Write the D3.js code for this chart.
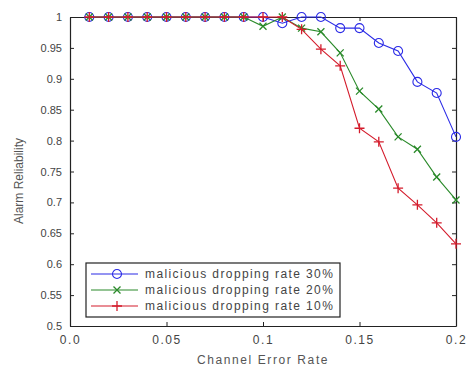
<!DOCTYPE html>
<html lang="en">
<head>
<meta charset="UTF-8">
<title>Alarm reliability</title>
<script src="https://cdn.jsdelivr.net/npm/d3@7"></script>
<style>
body { margin: 0; background: #fff; }
svg { font-family: Arial, "Liberation Sans", sans-serif; }
.tick text { fill: #444; font-size: 11px; }
.xax .tick text { font-size: 12px; letter-spacing: 1.6px; }
</style>
</head>
<body>
<script>
// channel error rate 0.01 .. 0.2
const errorRates = [0.01,0.02,0.03,0.04,0.05,0.06,0.07,0.08,0.09,0.10,
                    0.11,0.12,0.13,0.14,0.15,0.16,0.17,0.18,0.19,0.20]
const rel30 = [1,1,1,1,1,1,1,1,1,1, 0.99,1,1,0.982,0.982,0.958,0.945,0.895,0.877,0.806]
const rel20 = [1,1,1,1,1,1,1,1,1,0.985, 1,0.982,0.976,0.942,0.88,0.851,0.806,0.786,0.741,0.704]
const rel10 = [1,1,1,1,1,1,1,1,1,1, 1,0.98,0.948,0.921,0.82,0.798,0.723,0.696,0.667,0.633]
const seriesNames = ["malicious dropping rate 30%", "malicious dropping rate 20%", "malicious dropping rate 10%"]
const xTicks = [0, 0.05, 0.1, 0.15, 0.2]
const xTickLabels = ["0.0", "0.05", "0.1", "0.15", "0.2"]
const yTicks = [0.5,0.55,0.6,0.65,0.7,0.75,0.8,0.85,0.9,0.95,1]

const series = [
  {name: seriesNames[0], values: rel30, color: "#2b2be6", marker: "circle"},
  {name: seriesNames[1], values: rel20, color: "#2a8a2a", marker: "x"},
  {name: seriesNames[2], values: rel10, color: "#d41c2c", marker: "plus"}
]

const width = 466, height = 367
const m = {left: 70, right: 10, top: 17, bottom: 41}
const svg = d3.select("body").append("svg").attr("width", width).attr("height", height)

const x = d3.scaleLinear().domain([0, 0.2]).range([m.left, width - m.right])
const y = d3.scaleLinear().domain([0.5, 1]).range([height - m.bottom, m.top])

// axes with inward ticks, box style
svg.append("g").attr("class", "xax").attr("transform", `translate(0,${y(0.5)})`)
  .call(d3.axisBottom(x).tickValues(xTicks).tickFormat((d, i) => xTickLabels[i]).tickSizeInner(-4).tickSizeOuter(0).tickPadding(9))
svg.append("g").attr("transform", `translate(${x(0)},0)`)
  .call(d3.axisLeft(y).tickValues(yTicks).tickFormat(d => d === 1 ? "1" : d3.format("")(+d.toFixed(2))).tickSizeInner(-4).tickSizeOuter(0).tickPadding(8))
svg.append("g").attr("transform", `translate(0,${y(1)})`)
  .call(d3.axisTop(x).tickValues(xTicks).tickFormat("").tickSizeInner(-4).tickSizeOuter(0))
svg.append("g").attr("transform", `translate(${x(0.2)},0)`)
  .call(d3.axisRight(y).tickValues(yTicks).tickFormat("").tickSizeInner(-4).tickSizeOuter(0))
svg.selectAll(".domain").attr("stroke", "#222").attr("stroke-width", 1.2)
svg.selectAll(".tick line").attr("stroke", "#222")

svg.append("text").attr("x", x(0.1)).attr("y", 364).attr("text-anchor", "middle")
  .attr("font-size", 12).attr("letter-spacing", 1.6).attr("fill", "#555").text("Channel Error Rate")
svg.append("text").attr("transform", `translate(23,181) rotate(-90)`).attr("text-anchor", "middle")
  .attr("font-size", 12).attr("fill", "#555").text("Alarm Reliability")

function drawMarker(g, type, color) {
  if (type === "circle") {
    g.append("circle").attr("r", 4.5).attr("fill", "none").attr("stroke", color).attr("stroke-width", 1.1)
  } else if (type === "x") {
    g.append("path").attr("d", "M-3.5,-3.5L3.5,3.5M-3.5,3.5L3.5,-3.5").attr("stroke", color).attr("stroke-width", 1.3)
  } else {
    g.append("path").attr("d", "M-5,0L5,0M0,-5L0,5").attr("stroke", color).attr("stroke-width", 1.3)
  }
}

const line = d3.line().x((d, i) => x(errorRates[i])).y(d => y(d))
series.forEach(s => {
  svg.append("path").datum(s.values).attr("d", line)
    .attr("fill", "none").attr("stroke", s.color).attr("stroke-width", 1.1)
  svg.append("g").selectAll("g").data(s.values).join("g")
    .attr("transform", (d, i) => `translate(${x(errorRates[i])},${y(d)})`)
    .each(function () { drawMarker(d3.select(this), s.marker, s.color) })
})

// legend
const lg = svg.append("g").attr("transform", "translate(86,263)")
lg.append("rect").attr("width", 254).attr("height", 54).attr("fill", "#fff").attr("stroke", "#222").attr("stroke-width", 1.2)
series.forEach((s, i) => {
  const row = lg.append("g").attr("transform", `translate(0,${11 + i * 16})`)
  row.append("line").attr("x1", 5).attr("x2", 52).attr("stroke", s.color).attr("stroke-width", 1.1)
  drawMarker(row.append("g").attr("transform", "translate(31,0)"), s.marker, s.color)
  row.append("text").attr("x", 59).attr("y", 4).attr("font-size", 12).attr("letter-spacing", 1.4)
    .attr("fill", "#444").text(s.name)
})
</script>
</body>
</html>
